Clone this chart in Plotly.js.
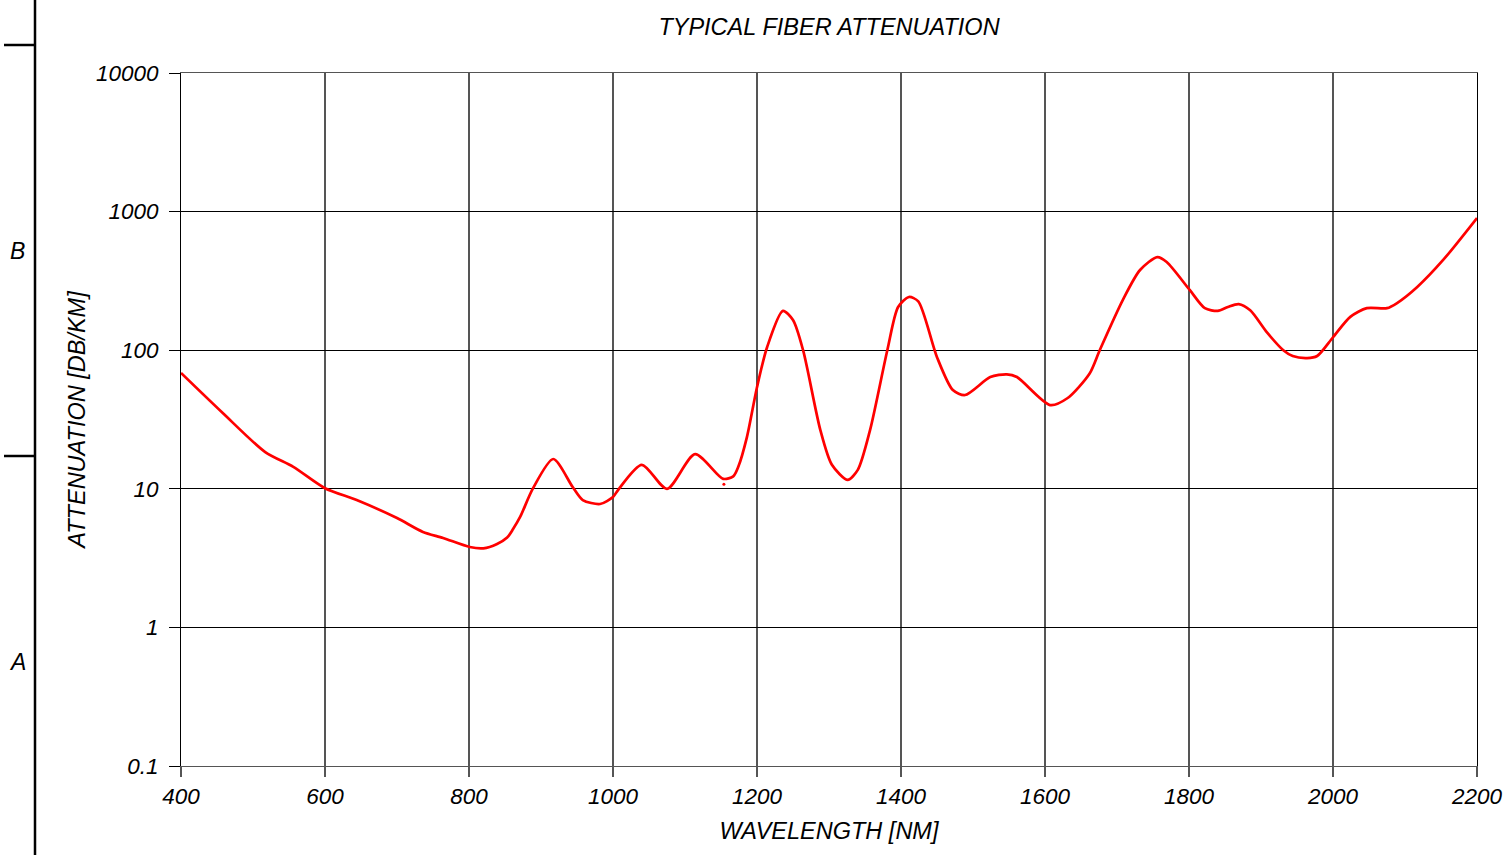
<!DOCTYPE html>
<html>
<head>
<meta charset="utf-8">
<script src="https://cdn.plot.ly/plotly-3.0.1.min.js"></script>
<style>
html,body{margin:0;padding:0;background:#fff;}
#chart{width:1509px;height:855px;}
</style>
</head>
<body>
<div id="chart"></div>
<script>
// Wavelength (nm) and attenuation (dB/km)
const wavelength = [400,458,517,556,600,644,700,736,764,801,820,839,853,861,871,889,917,944,958,982,1000,1007,1040,1075,1114,1153,1167,1174,1186,1200,1214,1236,1250,1264,1288,1304,1326,1340,1357,1381,1396,1411,1424,1450,1472,1489,1524,1547,1561,1607,1631,1662,1676,1708,1732,1756,1769,1801,1822,1840,1854,1869,1885,1908,1931,1944,1964,1978,2000,2024,2047,2075,2089,2117,2153,2200];
const attenuation = [68.5,35.2,18.4,14.4,10.1,8.3,6.15,4.88,4.42,3.8,3.72,4.0,4.45,5.1,6.26,10.1,16.4,10.3,8.3,7.77,8.73,9.8,14.9,10.0,17.8,11.8,12.3,14.4,23.6,54,105,192,165,100,26.5,14.9,11.6,13.7,26.5,100,205,242,225,89,51.6,47.5,64,67,64,40.2,45,68,100,230,379,470,433,272,201,192,205,215,194,135,100,90.8,87.8,90.8,124,174,201,201,219,286,448,899];
// stray dot in the reference
const dotX = [1154];
const dotY = [10.8];

const xTicks = [400,600,800,1000,1200,1400,1600,1800,2000,2200];
const yTicks = [0.1,1,10,100,1000,10000];
const yTickText = ['0.1','1','10','100','1000','10000'];

const titleText = 'TYPICAL FIBER ATTENUATION';
const xTitle = 'WAVELENGTH [NM]';
const yTitle = 'ATTENUATION [DB/KM]';
const frameLabels = ['B','A'];

const font = {family:'Liberation Sans, Arial, sans-serif', color:'#000', style:'italic'};

const traces = [
  {x: wavelength, y: attenuation, type:'scatter', mode:'lines',
   line:{color:'#ff0000', width:2.7, shape:'spline', smoothing:0.75},
   hoverinfo:'skip', showlegend:false},
  {x: dotX, y: dotY, type:'scatter', mode:'markers',
   marker:{color:'#ff0000', size:3}, hoverinfo:'skip', showlegend:false}
];

// left frame geometry in paper coords (plot area: x 181..1477 px, y 73..766 px)
function px(x){return (x-181)/1296;}
function py(y){return (766-y)/693;}

const layout = {
  width:1509, height:855,
  margin:{l:181, r:32, t:73, b:89},
  paper_bgcolor:'#fff', plot_bgcolor:'#fff',
  showlegend:false,
  font: Object.assign({size:22}, font),
  title:{text:titleText, x:0.5, xref:'paper', xanchor:'center', y:1-27/855, yanchor:'middle',
         font:Object.assign({}, font, {size:23.5})},
  xaxis:{
    range:[400,2200], tickvals:xTicks, ticktext:xTicks.map(String),
    showgrid:true, gridcolor:'#555', gridwidth:1.3,
    ticks:'outside', ticklen:10, tickcolor:'#555', tickwidth:1.3,
    showline:true, linecolor:'#555', linewidth:1.3, mirror:true,
    zeroline:false, ticklabelstandoff:0,
    tickfont:Object.assign({}, font, {size:22.5}),
    title:{text:xTitle, standoff:14, font:Object.assign({}, font, {size:23.5})}
  },
  yaxis:{
    type:'log', range:[-1,4], tickvals:yTicks, ticktext:yTickText,
    showgrid:true, gridcolor:'#000', gridwidth:1,
    ticks:'outside', ticklen:11, tickcolor:'#000', tickwidth:1,
    showline:true, linecolor:'#000', linewidth:1, mirror:true,
    zeroline:false, ticklabelstandoff:6,
    tickfont:Object.assign({}, font, {size:22.5}),
    title:{text:yTitle, standoff:3, font:Object.assign({}, font, {size:23.5})}
  },
  shapes:[
    {type:'line', xref:'paper', yref:'paper', x0:px(35), x1:px(35), y0:py(0), y1:py(855), line:{color:'#000', width:2.5}},
    {type:'line', xref:'paper', yref:'paper', x0:px(4), x1:px(35), y0:py(45), y1:py(45), line:{color:'#000', width:2.5}},
    {type:'line', xref:'paper', yref:'paper', x0:px(4), x1:px(35), y0:py(456), y1:py(456), line:{color:'#000', width:2.5}}
  ],
  annotations:[
    {text:frameLabels[0], xref:'paper', yref:'paper', x:px(17), y:py(251), showarrow:false, xanchor:'center', yanchor:'middle', font:Object.assign({}, font, {size:23})},
    {text:frameLabels[1], xref:'paper', yref:'paper', x:px(17), y:py(662), showarrow:false, xanchor:'center', yanchor:'middle', font:Object.assign({}, font, {size:23})}
  ]
};

Plotly.newPlot('chart', traces, layout, {displayModeBar:false, staticPlot:true});
</script>
</body>
</html>
